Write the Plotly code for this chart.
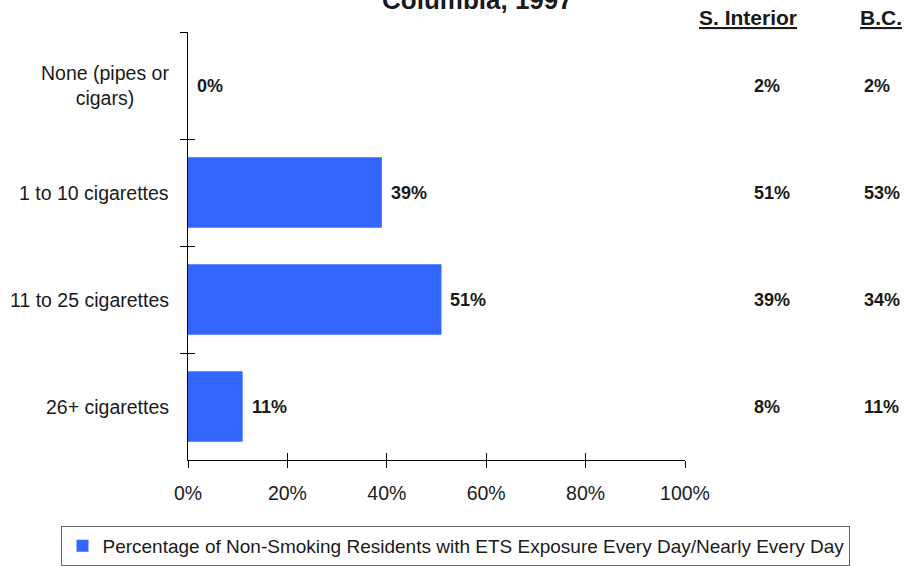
import plotly.graph_objects as go

categories = ["None (pipes or<br>cigars)", "1 to 10 cigarettes", "11 to 25 cigarettes", "26+ cigarettes"]
region_values = [0, 39, 51, 11]
s_interior_values = [2, 51, 39, 8]
bc_values = [2, 53, 34, 11]
x_tick_values = [0, 20, 40, 60, 80, 100]
x_tick_labels = ["0%", "20%", "40%", "60%", "80%", "100%"]
series_name = "Percentage of Non-Smoking Residents with ETS Exposure Every Day/Nearly Every Day"
title_text = "Columbia, 1997"
col_headers = ["S. Interior", "B.C."]

FONT = "Liberation Sans, Arial, sans-serif"
TXT = "#1a1a1a"

fig = go.Figure()
fig.add_trace(go.Bar(
    x=region_values, y=categories, orientation="h",
    marker=dict(color="#3366FF", line=dict(width=0)),
    name=series_name, showlegend=True,
))
# helper trace for cross-style ticks on overlay axes
fig.add_trace(go.Scatter(
    x=[None] * len(categories), y=categories, xaxis="x2", yaxis="y2",
    mode="markers", showlegend=False, hoverinfo="skip",
))

annotations = []
# category labels (centered multi-line)
for c in categories:
    annotations.append(dict(
        x=0, xref="paper", y=c, yref="y", xanchor="right", yanchor="middle",
        xshift=-17, text=c, showarrow=False, align="center",
        font=dict(family=FONT, size=19.5, color=TXT)))
# bar value labels
for c, v in zip(categories, region_values):
    annotations.append(dict(
        x=v, xref="x", y=c, yref="y", xanchor="left", yanchor="middle",
        xshift=7, text=f"<b>{v}%</b>", showarrow=False,
        font=dict(family=FONT, size=18, color=TXT)))
# comparison columns
for c, v in zip(categories, s_interior_values):
    annotations.append(dict(
        x=1.1348, xref="paper", y=c, yref="y", xanchor="left", yanchor="middle",
        text=f"<b>{v}%</b>", showarrow=False,
        font=dict(family=FONT, size=18, color=TXT)))
for c, v in zip(categories, bc_values):
    annotations.append(dict(
        x=1.356, xref="paper", y=c, yref="y", xanchor="left", yanchor="middle",
        text=f"<b>{v}%</b>", showarrow=False,
        font=dict(family=FONT, size=18, color=TXT)))
# column headers
for hx, h in zip([1.1268, 1.3944], col_headers):
    annotations.append(dict(
        x=hx, xref="paper", y=1.035, yref="paper", xanchor="center", yanchor="middle",
        text=f"<b>{h}</b>", showarrow=False,
        font=dict(family=FONT, size=21, color=TXT, lineposition="under")))
# title (top line clipped by page edge in the reference)
annotations.append(dict(
    x=0.5815, xref="paper", y=1.035, yref="paper", xanchor="center", yanchor="bottom",
    text=f"<b>{title_text}</b>", showarrow=False,
    font=dict(family=FONT, size=26, color=TXT)))

axis_common = dict(linecolor="black", tickcolor="black", tickwidth=1, ticklen=7)

fig.update_layout(
    width=906, height=566,
    margin=dict(l=188, r=221, t=32, b=106, pad=0, autoexpand=False),
    paper_bgcolor="white", plot_bgcolor="white",
    bargap=0.34,
    font=dict(family=FONT, size=19.5, color=TXT),
    xaxis=dict(
        range=[0, 100], tickmode="array", tickvals=x_tick_values, ticktext=x_tick_labels,
        ticks="outside", showline=True, linewidth=1, showgrid=False, zeroline=False,
        ticklabelstandoff=9, tickfont=dict(family=FONT, size=19.5, color=TXT),
        fixedrange=True, **axis_common),
    xaxis2=dict(
        overlaying="x", anchor="y", side="bottom", range=[0, 100],
        tickmode="array", tickvals=x_tick_values,
        ticks="inside", showline=False, showgrid=False, zeroline=False,
        showticklabels=False, **axis_common),
    yaxis=dict(
        type="category", categoryorder="array", categoryarray=categories,
        range=[3.5, -0.5], tickson="boundaries", ticks="outside",
        showline=True, linewidth=1, showgrid=False, zeroline=False,
        showticklabels=False, **axis_common),
    yaxis2=dict(
        overlaying="y", anchor="x", side="left",
        type="category", categoryorder="array", categoryarray=categories,
        range=[3.5, -0.5], tickson="boundaries", ticks="inside",
        showline=False, showgrid=False, zeroline=False,
        showticklabels=False, **axis_common),
    legend=dict(
        orientation="h", xref="container", yref="container",
        x=0.5033, xanchor="center", y=0.0707, yanchor="top",
        bordercolor="#666666", borderwidth=1, bgcolor="white",
        font=dict(family=FONT, size=19, color=TXT), itemwidth=30,
    ),
    annotations=annotations,
    showlegend=True,
)

fig.write_html(
    "out.html",
    config={"displayModeBar": False},
    post_script="document.body.style.margin='0px';document.body.style.overflow='hidden';",
)
